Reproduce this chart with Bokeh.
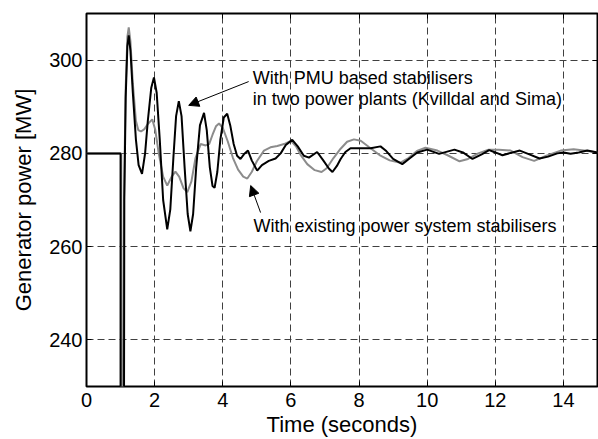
from bokeh.plotting import figure
from bokeh.models import Range1d, FixedTicker, LinearAxis, Label, Arrow, NormalHead
from bokeh.embed import file_html
from bokeh.resources import INLINE

# ---- data ----
t_pmu = [0, 1.0, 1.0, 1.1, 1.11, 1.15, 1.2, 1.24, 1.29, 1.36, 1.45, 1.53, 1.63, 1.72, 1.8, 1.9,
         1.98, 2.06, 2.15, 2.25, 2.37, 2.46, 2.55, 2.63, 2.71, 2.79, 2.88, 2.97, 3.05, 3.13, 3.22,
         3.33, 3.45, 3.53, 3.62, 3.7, 3.76, 3.84, 3.93, 4.03, 4.13, 4.22, 4.32, 4.42, 4.52, 4.62,
         4.74, 4.85, 5.01, 5.15, 5.35, 5.55, 5.7, 5.85, 6.04, 6.2, 6.38, 6.53, 6.77, 6.95, 7.12,
         7.22, 7.35, 7.46, 7.6, 7.75, 8.0, 8.34, 8.63, 8.8, 9.0, 9.27, 9.5, 9.71, 10.0, 10.35,
         10.8, 11.05, 11.33, 11.6, 11.82, 12.0, 12.21, 12.45, 12.72, 13.0, 13.3, 13.55, 13.82,
         14.0, 14.21, 14.45, 14.7, 15.0]
p_pmu = [280, 280, 220, 220, 270, 292, 303, 305.3, 302, 293, 283, 277.5, 275.6, 280, 287, 294,
         296.3, 293, 283, 270, 263.7, 268, 279, 288, 291.2, 288, 277, 267, 263.3, 267, 277,
         286, 288.7, 285, 277, 273, 272.6, 276, 283, 287.7, 288.5, 286, 282, 279.5, 278.8, 279.8,
         280.6, 278.5, 276.3, 277.5, 278.4, 278.9, 280, 281.8, 282.9, 281.5, 279.5, 279.1, 280.3, 278.5, 276.7,
         276.0, 277.3, 278.8, 280.3, 281.1, 281.1, 281.1, 281.5, 280.5, 278.8, 277.7, 279, 280.2, 280.8, 279.9,
         280.8, 280.2, 278.8, 279.8, 280.7, 280.2, 279.6, 280.1, 280.6, 279.8, 278.9, 279.3, 280.0,
         280.2, 279.9, 280.2, 280.6, 280.2]

t_pss = [0, 1.02, 1.02, 1.07, 1.1, 1.15, 1.2, 1.24, 1.29, 1.36, 1.45, 1.52, 1.6, 1.7, 1.8, 1.93,
         2.02, 2.12, 2.25, 2.37, 2.5, 2.61, 2.72, 2.85, 2.96, 3.08, 3.2, 3.35, 3.5, 3.6, 3.7, 3.8,
         3.89, 4.0, 4.15, 4.3, 4.45, 4.6, 4.72, 4.85, 5.0, 5.21, 5.4, 5.6, 5.8, 6.0, 6.15, 6.3,
         6.48, 6.7, 6.9, 7.05, 7.25, 7.46, 7.65, 7.85, 8.05, 8.3, 8.63, 8.9, 9.22, 9.45, 9.7,
         9.95, 10.3, 10.6, 10.95, 11.2, 11.5, 11.8, 12.1, 12.45, 12.8, 13.14, 13.5, 13.92, 14.3,
         14.6, 15.0]
p_pss = [280, 280, 220, 220, 270, 294, 305, 307, 304, 295, 287, 285, 284.7, 285.2, 286.3, 287.3,
         285, 280, 275, 273.1, 275, 276.1, 275, 272.5, 271.7, 274, 279, 282, 281.7, 282, 284, 285.8,
         286.4, 285.5, 282.5, 279, 276.5, 275, 274.6, 276, 278.3, 280.6, 281.3, 281.6, 282, 282.7, 281.5, 279.5,
         277.7, 276.4, 276, 276.8, 279, 281, 282.5, 283, 282.7, 281.3, 279.5, 278.5, 278.0, 279, 280.5,
         281.2, 280.6, 279.6, 278.3, 278.8, 280, 280.8, 280.8, 280.6, 279.2, 278.4, 279.5, 280.6, 280.9,
         280.6, 280.2]

x_ticks = [0, 2, 4, 6, 8, 10, 12, 14]
y_ticks = [240, 260, 280, 300]

FONT = "Liberation Sans"

p = figure(width=598, height=439, output_backend="svg", toolbar_location=None,
           x_range=Range1d(0, 15), y_range=Range1d(230, 310),
           min_border_left=86, min_border_right=1, min_border_top=13, min_border_bottom=49)

p.outline_line_color = "black"
p.outline_line_width = 2
p.outline_line_alpha = 1

p.xaxis.ticker = FixedTicker(ticks=x_ticks)
p.yaxis.ticker = FixedTicker(ticks=y_ticks)
for ax in (p.xaxis[0], p.yaxis[0]):
    ax.axis_line_color = None
    ax.major_tick_in = 5
    ax.major_tick_out = 0
    ax.major_tick_line_color = "black"
    ax.major_tick_line_width = 1
    ax.minor_tick_line_color = None
    ax.major_label_text_font = FONT
    ax.major_label_text_font_size = "20px"
    ax.major_label_text_color = "black"
    ax.axis_label_text_font = FONT
    ax.axis_label_text_font_size = "22px"
    ax.axis_label_text_font_style = "normal"
    ax.axis_label_text_color = "black"
p.xaxis.axis_label = "Time (seconds)"
p.yaxis.axis_label = "Generator power [MW]"
p.xaxis.major_label_standoff = 6
p.yaxis.major_label_standoff = 4
p.xaxis.axis_label_standoff = 2
p.yaxis.axis_label_standoff = 10

# mirrored ticks on top and right (no labels)
top = LinearAxis(ticker=FixedTicker(ticks=x_ticks), axis_line_color=None, major_tick_in=5,
                 major_tick_out=0, minor_tick_line_color=None, major_label_standoff=0,
                 major_label_overrides={t: "" for t in x_ticks})
right = LinearAxis(ticker=FixedTicker(ticks=y_ticks), axis_line_color=None, major_tick_in=5,
                   major_tick_out=0, minor_tick_line_color=None, major_label_standoff=0,
                   major_label_overrides={t: "" for t in y_ticks})
p.add_layout(top, "above")
p.add_layout(right, "right")

for g in (p.xgrid[0], p.ygrid[0]):
    g.grid_line_color = "#404040"
    g.grid_line_dash = "7 4"
    g.grid_line_width = 1

p.line(t_pss, p_pss, line_color="#8c8c8c", line_width=2)
p.line(t_pmu, p_pmu, line_color="black", line_width=2)

txt = dict(text_font=FONT, text_font_size="18px", text_color="black",
           text_baseline="middle", text_align="left")
p.add_layout(Label(x=4.88, y=296.2, text="With PMU based stabilisers", **txt))
p.add_layout(Label(x=4.88, y=291.7, text="in two power plants (Kvilldal and Sima)", **txt))
p.add_layout(Label(x=4.9, y=264.5, text="With existing power system stabilisers", **txt))

p.add_layout(Arrow(end=NormalHead(size=10, fill_color="black", line_color="black"),
                   x_start=4.76, y_start=295.4, x_end=3.0, y_end=290.3,
                   line_color="black", line_width=1))
p.add_layout(Arrow(end=NormalHead(size=10, fill_color="black", line_color="black"),
                   x_start=5.11, y_start=267.3, x_end=4.82, y_end=273.1,
                   line_color="black", line_width=1))

open("out.html", "w").write(file_html(p, INLINE))
